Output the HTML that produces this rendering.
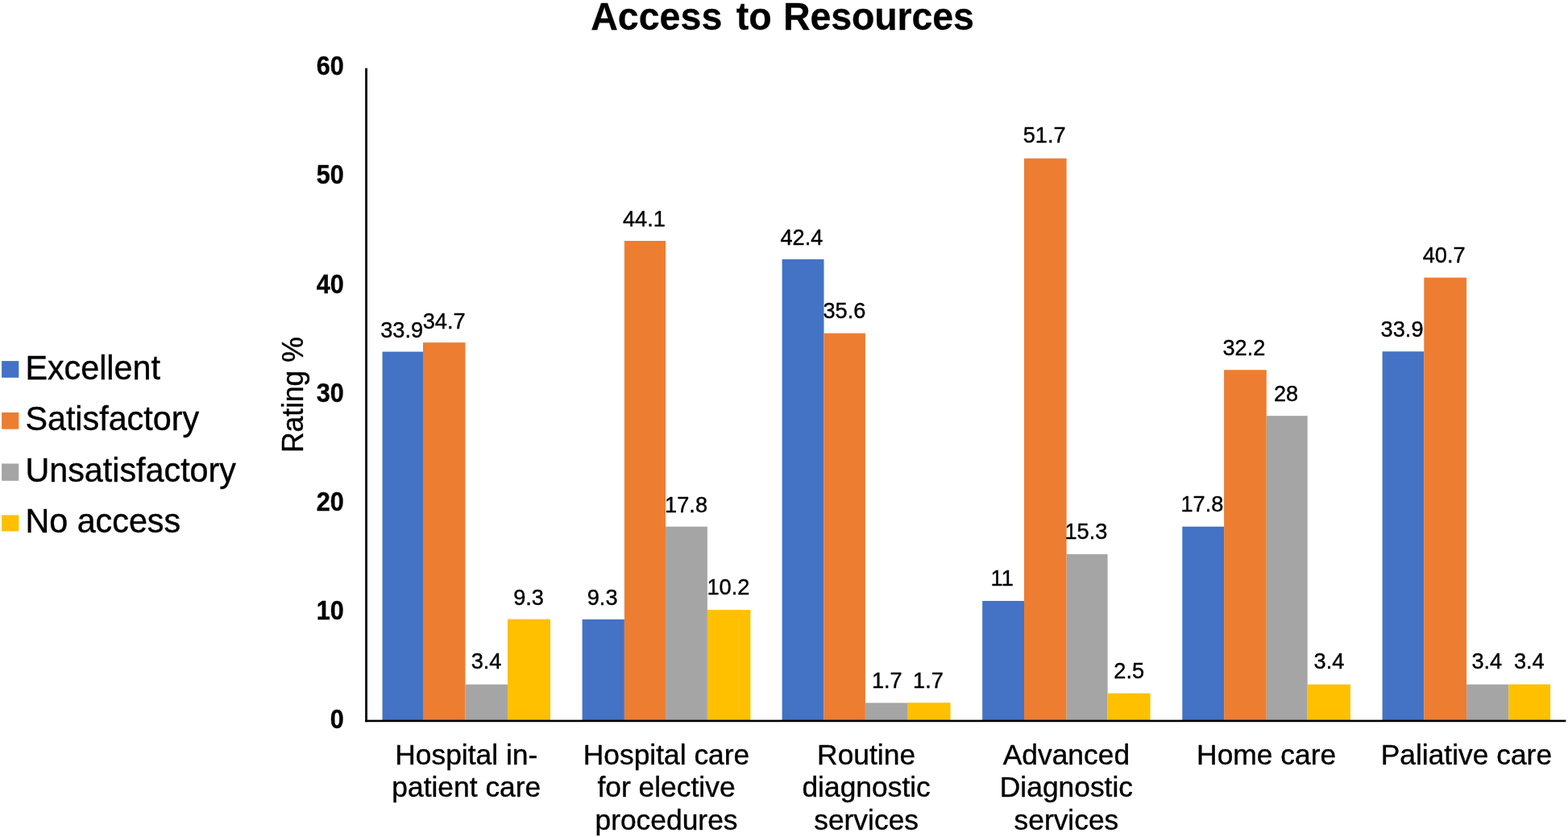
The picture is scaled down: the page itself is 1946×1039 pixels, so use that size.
<!DOCTYPE html>
<html lang="en">
<head>
<meta charset="utf-8">
<title>Access to Resources</title>
<style>
html,body{margin:0;padding:0;background:#fff;}
body{width:1946px;height:1039px;overflow:hidden;}
svg{display:block;}
text{font-family:"Liberation Sans",sans-serif;fill:#000;stroke:#000;stroke-width:0.4px;stroke-linejoin:round;}
.t{font-weight:bold;stroke-width:0.25px;}
.dl{text-anchor:middle;}
.cat{text-anchor:middle;}
.tick{font-weight:bold;text-anchor:end;stroke-width:0.35px;}
</style>
</head>
<body>
<svg width="1946" height="1039" viewBox="0 0 1946 1039">
<rect width="1946" height="1039" fill="#fff"/>
<text class="t" text-anchor="middle" transform="translate(971 36.6) scale(1 1.03)" font-size="46.6" word-spacing="2.5">Access <tspan dx="2">to</tspan> <tspan dx="-1.3" letter-spacing="-0.15">Resources</tspan></text>
<rect x="2.1" y="448.1" width="21.2" height="20.7" fill="#4472C4"/>
<text transform="translate(31.4 470.8) scale(1 1.02)" font-size="41.3">Excellent</text>
<rect x="2.1" y="512" width="21.2" height="20.7" fill="#ED7D31"/>
<text transform="translate(31.4 534.15) scale(1 1.02)" font-size="41.3">Satisfactory</text>
<rect x="2.1" y="575.5" width="21.2" height="21.3" fill="#A5A5A5"/>
<text transform="translate(31.4 597.5) scale(1 1.02)" font-size="41.3">Unsatisfactory</text>
<rect x="2.1" y="639.4" width="21.2" height="20.1" fill="#FFC000"/>
<text transform="translate(31.4 660.85) scale(1 1.02)" font-size="41.3">No access</text>
<text text-anchor="middle" transform="translate(376.2 490.2) rotate(-90) scale(1 1.02)" font-size="35.4">Rating %</text>
<text class="tick" transform="translate(426.7 904.05) scale(1 1.07)" font-size="30.6">0</text>
<text class="tick" transform="translate(426.7 768.6) scale(1 1.07)" font-size="30.6">10</text>
<text class="tick" transform="translate(426.7 634.15) scale(1 1.07)" font-size="30.6">20</text>
<text class="tick" transform="translate(426.7 498.9) scale(1 1.07)" font-size="30.6">30</text>
<text class="tick" transform="translate(426.7 363.65) scale(1 1.07)" font-size="30.6">40</text>
<text class="tick" transform="translate(426.7 228.1) scale(1 1.07)" font-size="30.6">50</text>
<text class="tick" transform="translate(426.7 93.15) scale(1 1.07)" font-size="30.6">60</text>
<rect x="474.55" y="436.6" width="50.45" height="458.3" fill="#4472C4"/>
<rect x="525" y="425.2" width="52.5" height="469.7" fill="#ED7D31"/>
<rect x="577.5" y="849.6" width="52.45" height="45.3" fill="#A5A5A5"/>
<rect x="629.95" y="768.6" width="53.05" height="126.3" fill="#FFC000"/>
<rect x="722.6" y="768.8" width="52.3" height="126.1" fill="#4472C4"/>
<rect x="774.9" y="299" width="51.2" height="595.9" fill="#ED7D31"/>
<rect x="826.1" y="653.7" width="51.8" height="241.2" fill="#A5A5A5"/>
<rect x="877.9" y="757.1" width="53.5" height="137.8" fill="#FFC000"/>
<rect x="970.6" y="321.8" width="51.9" height="573.1" fill="#4472C4"/>
<rect x="1022.5" y="413.65" width="51.4" height="481.25" fill="#ED7D31"/>
<rect x="1073.9" y="872.5" width="52.1" height="22.4" fill="#A5A5A5"/>
<rect x="1126" y="872.3" width="53.6" height="22.6" fill="#FFC000"/>
<rect x="1219.2" y="745.95" width="51.8" height="148.95" fill="#4472C4"/>
<rect x="1271" y="196.6" width="52.65" height="698.3" fill="#ED7D31"/>
<rect x="1323.65" y="687.9" width="50.95" height="207" fill="#A5A5A5"/>
<rect x="1374.6" y="860.6" width="53" height="34.3" fill="#FFC000"/>
<rect x="1467.3" y="653.7" width="51.8" height="241.2" fill="#4472C4"/>
<rect x="1519.1" y="459.2" width="52.7" height="435.7" fill="#ED7D31"/>
<rect x="1571.8" y="516.2" width="50.9" height="378.7" fill="#A5A5A5"/>
<rect x="1622.7" y="849.6" width="53.3" height="45.3" fill="#FFC000"/>
<rect x="1715.6" y="436.3" width="51.7" height="458.6" fill="#4472C4"/>
<rect x="1767.3" y="344.6" width="52.8" height="550.3" fill="#ED7D31"/>
<rect x="1820.1" y="849.6" width="52.2" height="45.3" fill="#A5A5A5"/>
<rect x="1872.3" y="849.5" width="51.8" height="45.4" fill="#FFC000"/>
<rect x="453.15" y="84.6" width="2.8" height="811.6" fill="#000"/>
<rect x="453.15" y="893.6" width="1490.25" height="2.6" fill="#000"/>
<text class="dl" transform="translate(498.7 419.2) scale(1 1.04)" font-size="27.2">33.9</text>
<text class="dl" transform="translate(551.15 407.7) scale(1 1.04)" font-size="27.2">34.7</text>
<text class="dl" transform="translate(603.55 830.2) scale(1 1.04)" font-size="27.2">3.4</text>
<text class="dl" transform="translate(656.05 750.5) scale(1 1.04)" font-size="27.2">9.3</text>
<text class="dl" transform="translate(747.65 750.5) scale(1 1.04)" font-size="27.2">9.3</text>
<text class="dl" transform="translate(799.35 280.5) scale(1 1.04)" font-size="27.2">44.1</text>
<text class="dl" transform="translate(851.55 635.85) scale(1 1.04)" font-size="27.2">17.8</text>
<text class="dl" transform="translate(903.95 738.2) scale(1 1.04)" font-size="27.2">10.2</text>
<text class="dl" transform="translate(994.95 303.5) scale(1 1.04)" font-size="27.2">42.4</text>
<text class="dl" transform="translate(1047.85 395.35) scale(1 1.04)" font-size="27.2">35.6</text>
<text class="dl" transform="translate(1100.85 853.7) scale(1 1.04)" font-size="27.2">1.7</text>
<text class="dl" transform="translate(1151.95 853.7) scale(1 1.04)" font-size="27.2">1.7</text>
<text class="dl" transform="translate(1243.65 727.45) scale(1 1.04)" font-size="27.2">11</text>
<text class="dl" transform="translate(1296.15 177.2) scale(1 1.04)" font-size="27.2">51.7</text>
<text class="dl" transform="translate(1347.85 669.15) scale(1 1.04)" font-size="27.2">15.3</text>
<text class="dl" transform="translate(1401.25 842.3) scale(1 1.04)" font-size="27.2">2.5</text>
<text class="dl" transform="translate(1491.85 635.4) scale(1 1.04)" font-size="27.2">17.8</text>
<text class="dl" transform="translate(1543.95 440.6) scale(1 1.04)" font-size="27.2">32.2</text>
<text class="dl" transform="translate(1596.05 497.9) scale(1 1.04)" font-size="27.2">28</text>
<text class="dl" transform="translate(1649.45 830.2) scale(1 1.04)" font-size="27.2">3.4</text>
<text class="dl" transform="translate(1740.05 418) scale(1 1.04)" font-size="27.2">33.9</text>
<text class="dl" transform="translate(1792.15 325.9) scale(1 1.04)" font-size="27.2">40.7</text>
<text class="dl" transform="translate(1845.35 830.2) scale(1 1.04)" font-size="27.2">3.4</text>
<text class="dl" transform="translate(1897.85 830.2) scale(1 1.04)" font-size="27.2">3.4</text>
<text class="cat" transform="translate(578.77 948.8)" font-size="35.4">Hospital in-</text>
<text class="cat" transform="translate(578.77 988.7)" font-size="35.4">patient care</text>
<text class="cat" transform="translate(827 948.8)" font-size="35.4">Hospital care</text>
<text class="cat" transform="translate(827 988.7)" font-size="35.4">for elective</text>
<text class="cat" transform="translate(827 1029.6)" font-size="35.4">procedures</text>
<text class="cat" transform="translate(1075.1 948.8)" font-size="35.4">Routine</text>
<text class="cat" transform="translate(1075.1 988.7)" font-size="35.4">diagnostic</text>
<text class="cat" transform="translate(1075.1 1029.6)" font-size="35.4">services</text>
<text class="cat" transform="translate(1323.4 948.8)" font-size="35.4">Advanced</text>
<text class="cat" transform="translate(1323.4 988.7)" font-size="35.4">Diagnostic</text>
<text class="cat" transform="translate(1323.4 1029.6)" font-size="35.4">services</text>
<text class="cat" transform="translate(1571.65 948.8)" font-size="35.4">Home care</text>
<text class="cat" transform="translate(1819.85 948.8)" font-size="35.4">Paliative care</text>
</svg>
</body>
</html>
